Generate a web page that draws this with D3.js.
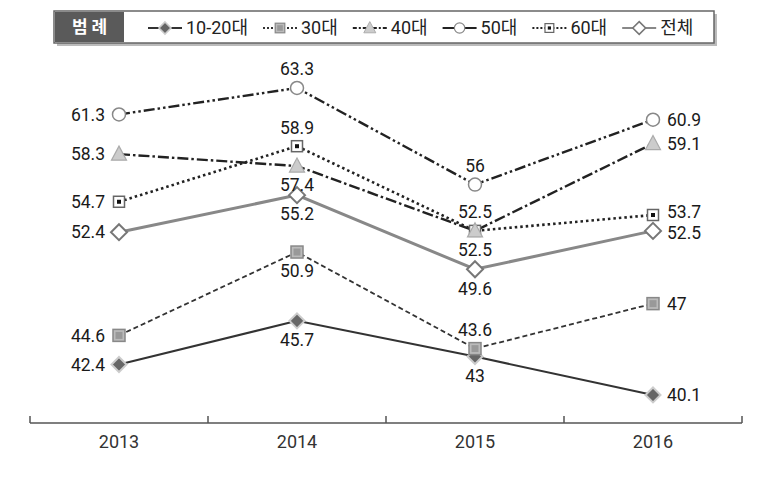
<!DOCTYPE html>
<html>
<head>
<meta charset="utf-8">
<script src="https://cdn.jsdelivr.net/npm/d3@7"></script>
<style>
  body { margin: 0; background: #fff; }
  text { font-family: Roboto, "Noto Sans CJK KR", sans-serif; }
</style>
</head>
<body>
<div id="chart"></div>
<script>
// Data
const years = ['2013', '2014', '2015', '2016'];
const seriesNames = ['10-20대', '30대', '40대', '50대', '60대', '전체'];
const v1020 = [42.4, 45.7, 43, 40.1];
const v30 = [44.6, 50.9, 43.6, 47];
const v40 = [58.3, 57.4, 52.5, 59.1];
const v50 = [61.3, 63.3, 56, 60.9];
const v60 = [54.7, 58.9, 52.5, 53.7];
const vAll = [52.4, 55.2, 49.6, 52.5];
const seriesValues = [v1020, v30, v40, v50, v60, vAll];

// Styles per series (label side: l = left, a = above, b = below, r = right)
const styles = {
    '10-20대': { stroke: '#333', width: 2, dash: null, legendDash: null, marker: 'diamondDark', labels: ['l', 'b', 'b', 'r'] },
    '30대': { stroke: '#333', width: 1.8, dash: '5,3', legendDash: '2,2', marker: 'squareGray', labels: ['l', 'b', 'a', 'r'] },
    '40대': { stroke: '#222', width: 2.4, dash: '11,3,2.5,3', legendDash: '4,2,2,2', marker: 'triangle', labels: ['l', 'b', 'a', 'r'] },
    '50대': { stroke: '#222', width: 2.4, dash: '11,3,2.5,3,2.5,3', legendDash: null, marker: 'circle', labels: ['l', 'a', 'a', 'r'] },
    '60대': { stroke: '#222', width: 2.6, dash: '2.5,3', legendDash: '2,2', marker: 'squareDot', labels: ['l', 'a', 'b', 'r'] },
    '전체': { stroke: '#888', width: 3, dash: null, legendDash: null, marker: 'diamondWhite', labels: ['l', 'b', 'b', 'r'] }
};
// small vertical nudges to keep close labels apart
const nudges = { '60대': [0, 0, 0, -3], '전체': [0, 0, 0, 2] };

const W = 762, H = 477;
const svg = d3.select('#chart').append('svg')
    .attr('width', W).attr('height', H);

// Scales
const x = d3.scaleBand().domain(years).range([30, 742]).padding(0);
const cx = d => x(d) + x.bandwidth() / 2;
const y = d3.scaleLinear().domain([35, 65]).range([462.4, 65.5]);

// X axis
const axisY = 423;
svg.append('line')
    .attr('x1', 30).attr('x2', 742).attr('y1', axisY).attr('y2', axisY)
    .attr('stroke', '#555').attr('stroke-width', 1.5);
const bounds = years.map(d => x(d)).concat([x.range()[1]]);
svg.selectAll('.tick-mark').data(bounds).enter().append('line')
    .attr('x1', d => d).attr('x2', d => d)
    .attr('y1', axisY - 7).attr('y2', axisY)
    .attr('stroke', '#555').attr('stroke-width', 1.5);
svg.append('g')
    .attr('transform', `translate(0,${axisY})`)
    .call(d3.axisBottom(x).tickSize(0).tickPadding(12))
    .call(g => g.select('.domain').remove())
    .selectAll('text')
    .attr('font-size', 18).attr('fill', '#333')
    .style('font-family', 'Roboto, sans-serif');

// Marker drawing
function drawMarker(g, type, px, py, k = 1) {
    const m = g.append('g').attr('transform', `translate(${px},${py}) scale(${k})`);
    if (type === 'diamondDark') {
        m.append('path').attr('d', 'M0,-7.5L7.5,0L0,7.5L-7.5,0Z')
            .attr('fill', '#666').attr('stroke', '#ccc').attr('stroke-width', 2);
    } else if (type === 'diamondWhite') {
        m.append('path').attr('d', 'M0,-8L8,0L0,8L-8,0Z')
            .attr('fill', '#fff').attr('stroke', '#777').attr('stroke-width', 2);
    } else if (type === 'squareGray') {
        m.append('rect').attr('x', -6).attr('y', -6).attr('width', 12).attr('height', 12)
            .attr('fill', '#bbb').attr('stroke', '#888').attr('stroke-width', 1.5);
        m.append('rect').attr('x', -3.5).attr('y', -3.5).attr('width', 7).attr('height', 7)
            .attr('fill', '#999');
    } else if (type === 'squareDot') {
        m.append('rect').attr('x', -5.5).attr('y', -5.5).attr('width', 11).attr('height', 11)
            .attr('fill', '#fff').attr('stroke', '#666').attr('stroke-width', 1.5);
        m.append('rect').attr('x', -2).attr('y', -2).attr('width', 4).attr('height', 4)
            .attr('fill', '#111');
    } else if (type === 'triangle') {
        m.append('path').attr('d', 'M0,-8L7.5,6L-7.5,6Z')
            .attr('fill', '#ccc').attr('stroke', '#aaa').attr('stroke-width', 1.2);
    } else if (type === 'circle') {
        m.append('circle').attr('r', 6.5)
            .attr('fill', '#fff').attr('stroke', '#888').attr('stroke-width', 1.5);
    }
}

// Lines
const line = d3.line().x(d => cx(d.year)).y(d => y(d.value));
const seriesData = seriesNames.map((name, i) => ({
    name,
    points: years.map((yr, j) => ({ year: yr, value: seriesValues[i][j] }))
}));

const drawOrder = ['전체', '10-20대', '30대', '60대', '40대', '50대'];
drawOrder.forEach(name => {
    const s = seriesData.find(d => d.name === name);
    const st = styles[name];
    svg.append('path')
        .attr('d', line(s.points))
        .attr('fill', 'none')
        .attr('stroke', st.stroke)
        .attr('stroke-width', st.width)
        .attr('stroke-dasharray', st.dash);
});
drawOrder.forEach(name => {
    const s = seriesData.find(d => d.name === name);
    const st = styles[name];
    const g = svg.append('g');
    s.points.forEach(p => drawMarker(g, st.marker, cx(p.year), y(p.value)));
});

// Value labels
seriesData.forEach(s => {
    const st = styles[s.name];
    s.points.forEach((p, j) => {
        const side = st.labels[j];
        let tx = cx(p.year), ty = y(p.value), anchor = 'middle';
        if (side === 'l') { tx -= 14; anchor = 'end'; }
        if (side === 'r') { tx += 14; anchor = 'start'; }
        if (side === 'a') ty -= 19;
        if (side === 'b') ty += 19;
        if (nudges[s.name]) ty += nudges[s.name][j];
        svg.append('text')
            .attr('x', tx).attr('y', ty)
            .attr('dy', '0.36em')
            .attr('text-anchor', anchor)
            .attr('font-size', 17.5)
            .attr('fill', '#1a1a1a')
            .text(p.value);
    });
});

// Legend
const lg = svg.append('g');
lg.append('rect').attr('x', 57).attr('y', 14).attr('width', 660).attr('height', 32)
    .attr('fill', '#bbb');
lg.append('rect').attr('x', 54).attr('y', 11).attr('width', 660).attr('height', 32)
    .attr('fill', '#fff').attr('stroke', '#666').attr('stroke-width', 1.5);
lg.append('rect').attr('x', 55).attr('y', 12).attr('width', 69).attr('height', 30)
    .attr('fill', '#5a5a5a');
lg.append('text').attr('x', 89.5).attr('y', 27).attr('dy', '0.36em')
    .attr('text-anchor', 'middle').attr('font-size', 17).attr('font-weight', 'bold')
    .attr('fill', '#fff').style('font-family', '"Noto Sans CJK KR", sans-serif')
    .text('범 례');

let lx = 148;
seriesNames.forEach(name => {
    const st = styles[name];
    const ly = 28;
    lg.append('line').attr('x1', lx).attr('x2', lx + 34).attr('y1', ly).attr('y2', ly)
        .attr('stroke', st.stroke).attr('stroke-width', Math.min(st.width, 2.2))
        .attr('stroke-dasharray', st.legendDash);
    drawMarker(lg, st.marker, lx + 17, ly, 0.8);
    const t = lg.append('text').attr('x', lx + 38).attr('y', ly).attr('dy', '0.36em')
        .attr('font-size', 18).attr('fill', '#222').text(name);
    lx += 38 + t.node().getComputedTextLength() + 15;
});
</script>
</body>
</html>
